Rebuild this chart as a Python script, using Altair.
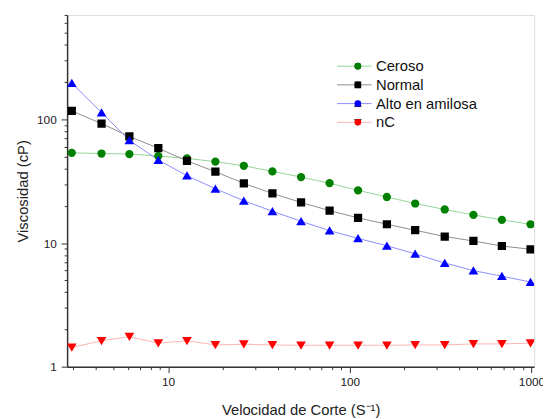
import altair as alt
import pandas as pd

shear = [2.95, 4.30, 6.12, 8.83, 12.7, 18.2, 26.1, 37.5, 53.9, 77.4, 111, 160, 229, 333, 479, 687, 988]
ceroso = [53.7, 53.0, 52.5, 50.6, 48.4, 45.6, 42.2, 38.0, 34.2, 30.5, 26.7, 23.6, 20.9, 18.7, 16.9, 15.4, 14.2]
normal = [117.3, 92.5, 72.9, 58.5, 46.2, 37.8, 30.4, 25.2, 21.3, 18.3, 16.0, 14.2, 12.7, 11.3, 10.4, 9.47, 8.91]
alto = [196.6, 113.6, 67.8, 47.0, 35.1, 27.5, 22.0, 18.1, 15.0, 12.6, 10.9, 9.52, 8.18, 6.90, 5.99, 5.40, 4.84]
nc = [1.43, 1.62, 1.75, 1.55, 1.62, 1.50, 1.52, 1.50, 1.49, 1.49, 1.49, 1.49, 1.50, 1.50, 1.53, 1.53, 1.55]

series = ["Ceroso", "Normal", "Alto en amilosa", "nC"]
marker_colors = ["#008000", "#000000", "#0000ff", "#ff0000"]
line_colors = ["#93d493", "#8c8c8c", "#8c8cff", "#ffb3b3"]
shapes = ["circle", "square",
          "M0,-1.05L1.18,0.95L-1.18,0.95Z",
          "M0,1.05L1.18,-0.95L-1.18,-0.95Z"]

x_ticks = [3, 4, 5, 6, 7, 8, 9, 10, 20, 30, 40, 50, 60, 70, 80, 90,
           100, 200, 300, 400, 500, 600, 700, 800, 900, 1000]
y_ticks = [1, 2, 3, 4, 5, 6, 7, 8, 9, 10, 20, 30, 40, 50, 60, 70, 80, 90,
           100, 200, 300, 400, 500, 600, 700]

rows = []
for name, vals in zip(series, [ceroso, normal, alto, nc]):
    for xv, yv in zip(shear, vals):
        rows.append({"x": xv, "y": yv, "serie": name, "serie_m": name})
df = pd.DataFrame(rows)

FONT = "Liberation Sans"
major = "indexof([1,10,100,1000], datum.value) >= 0"
tick_size = {"condition": {"test": major, "value": 6}, "value": 3}
label_expr = major + " ? format(datum.value, 'd') : ''"

x_enc = alt.X("x:Q", scale=alt.Scale(type="log", domain=[2.78, 1034]),
              axis=alt.Axis(values=x_ticks, labelExpr=label_expr, tickSize=tick_size,
                            labelPadding=4, labelFontSize=12, labelFont=FONT, labelColor="#222",
                            title="Velocidad de Corte (S⁻¹)", titleFont=FONT, titleFontSize=15,
                            titleFontWeight="normal", titleColor="#222", titlePadding=16,
                            labelOverlap=False, labelFlush=False, domainColor="#333",
                            domainWidth=1.5, tickColor="#333", tickWidth=1, grid=False))
y_enc = alt.Y("y:Q", scale=alt.Scale(type="log", domain=[1, 700]),
              axis=alt.Axis(values=y_ticks, labelExpr=label_expr, tickSize=tick_size,
                            labelPadding=5, labelFontSize=12, labelFont=FONT, labelColor="#222",
                            title="Viscosidad (cP)", titleFont=FONT, titleFontSize=15,
                            titleFontWeight="normal", titleColor="#222", titlePadding=6,
                            labelOverlap=False, labelFlush=False, domainColor="#333",
                            domainWidth=1.5, tickColor="#333", tickWidth=1, grid=False))

leg_line = alt.Legend(orient="none", legendX=273.5, legendY=42.7, title=None,
                      symbolType="stroke", symbolSize=1225, symbolStrokeWidth=1,
                      clipHeight=18.5, rowPadding=0, padding=0, labelOffset=4,
                      labelFontSize=15, labelFont=FONT, labelColor="#111", labelLimit=0)
leg_mark = alt.Legend(orient="none", legendX=287.6, legendY=42.7, title=None,
                      symbolSize=45, symbolStrokeWidth=0, clipHeight=18.5, rowPadding=0,
                      padding=0, labelExpr="''", labelFontSize=15, labelFont=FONT)

lines = alt.Chart(df).mark_line(strokeWidth=1, clip=True).encode(
    x=x_enc, y=y_enc,
    stroke=alt.Stroke("serie:N", scale=alt.Scale(domain=series, range=line_colors), legend=leg_line),
)
points = alt.Chart(df).mark_point(filled=True, size=70, opacity=1, strokeWidth=0, clip=True).encode(
    x=x_enc, y=y_enc,
    fill=alt.Fill("serie_m:N", sort=series, scale=alt.Scale(range=marker_colors), legend=leg_mark),
    shape=alt.Shape("serie_m:N", sort=series, scale=alt.Scale(range=shapes), legend=leg_mark),
)

chart = alt.layer(lines, points).properties(
    width=474, height=357,
    autosize=alt.AutoSizeParams(type="none"),
    padding={"left": 60, "top": 4, "right": 9, "bottom": 50},
).configure_view(stroke="#444", strokeWidth=1.5).configure(background="white")

chart.save("out.html", embed_options={"renderer": "svg", "actions": False})
